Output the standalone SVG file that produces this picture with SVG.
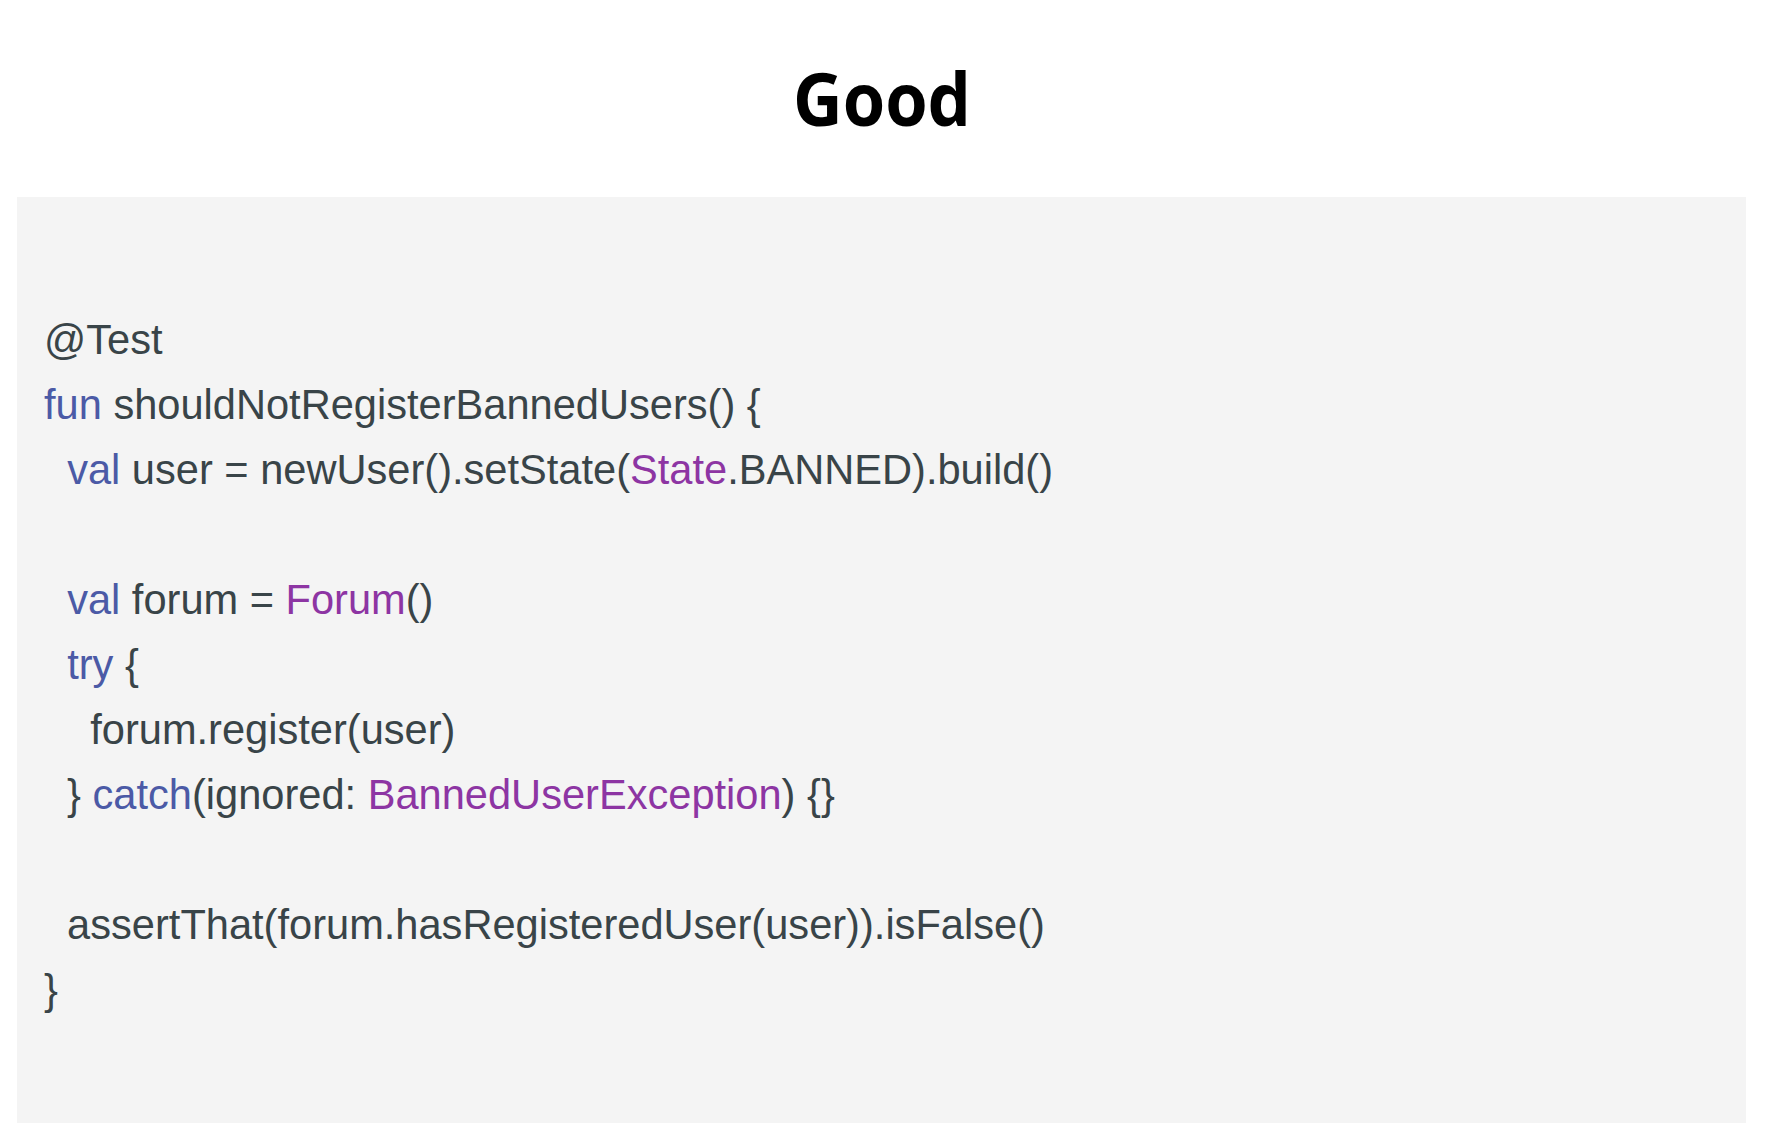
<svg xmlns="http://www.w3.org/2000/svg" width="1770" height="1146" viewBox="0 0 1770 1146">
<style>
.code{font-family:"Liberation Sans",Arial,sans-serif;font-size:41.6px;fill:#394448;white-space:pre}
.kw{fill:#4b5aa6}
.ty{fill:#8d35a3}
.title{font-family:"Open Sans","Noto Sans",sans-serif;font-weight:700;font-size:74px;fill:#000}
</style>
<rect x="0" y="0" width="1770" height="1146" fill="#ffffff"/>
<g id="title">
<text class="title" x="882" y="126" text-anchor="middle" textLength="178" lengthAdjust="spacingAndGlyphs">Good</text>
</g>
<g id="code-panel">
<rect x="17" y="197" width="1729" height="926" fill="#f4f4f4"/>
<text class="code" xml:space="preserve" x="44" y="354">@Test</text>
<text class="code" xml:space="preserve" x="44" y="419"><tspan class="kw">fun</tspan> shouldNotRegisterBannedUsers() {</text>
<text class="code" xml:space="preserve" x="44" y="484">  <tspan class="kw">val</tspan> user = newUser().setState(<tspan class="ty">State</tspan>.BANNED).build()</text>
<text class="code" xml:space="preserve" x="44" y="614">  <tspan class="kw">val</tspan> forum = <tspan class="ty">Forum</tspan>()</text>
<text class="code" xml:space="preserve" x="44" y="679">  <tspan class="kw">try</tspan> {</text>
<text class="code" xml:space="preserve" x="44" y="744">    forum.register(user)</text>
<text class="code" xml:space="preserve" x="44" y="809">  } <tspan class="kw">catch</tspan>(ignored: <tspan class="ty">BannedUserException</tspan>) {}</text>
<text class="code" xml:space="preserve" x="44" y="939">  assertThat(forum.hasRegisteredUser(user)).isFalse()</text>
<text class="code" xml:space="preserve" x="44" y="1004">}</text>
</g>
</svg>
